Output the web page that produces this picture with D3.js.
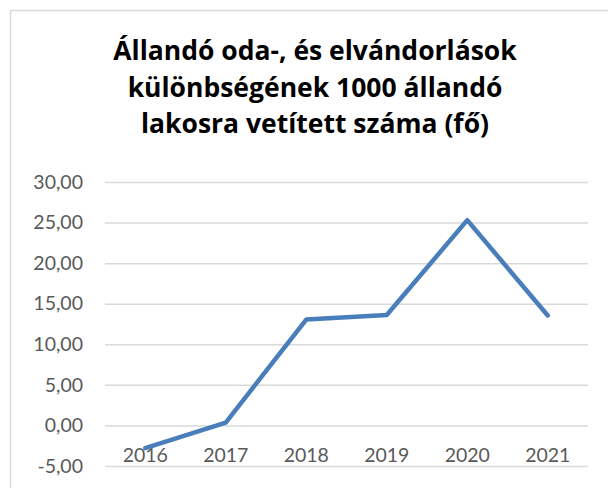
<!DOCTYPE html>
<html><head><meta charset="utf-8">
<script src="https://cdn.jsdelivr.net/npm/d3@7"></script>
<style>html,body{margin:0;padding:0;background:#fff;}</style>
</head><body>
<script>
const years = ["2016","2017","2018","2019","2020","2021"];
const values = [-2.8, 0.35, 13.05, 13.6, 25.3, 13.55];
const yTicks = [-5,0,5,10,15,20,25,30];
const titleLines = ["Állandó oda-, és elvándorlások","különbségének 1000 állandó","lakosra vetített száma (fő)"];

const W=608,H=488;
const svg=d3.select("body").append("svg").attr("width",W).attr("height",H);
svg.append("rect").attr("x",10.5).attr("y",10.5).attr("width",W).attr("height",H)
  .attr("fill","#fff").attr("stroke","#d9d9d9").attr("stroke-width",1.5);

const font="Lato, 'Open Sans', sans-serif";
const tt=svg.append("text").attr("text-anchor","middle").attr("font-family","'Open Sans', sans-serif")
  .attr("font-weight","bold").attr("font-size",26.5).attr("fill","#000");
titleLines.forEach((l,i)=>tt.append("tspan").attr("x",315).attr("y",60+i*36.5).text(l));

const x=d3.scaleBand().domain(years).range([105,588]);
const y=d3.scaleLinear().domain([-5,30]).range([466,182]);

svg.append("g").selectAll("line").data(yTicks).join("line")
  .attr("x1",105).attr("x2",588).attr("y1",d=>y(d)+0.5).attr("y2",d=>y(d)+0.5)
  .attr("stroke","#d9d9d9").attr("stroke-width",1.5);

const fmt=d=>d3.format(".2f")(d).replace(".",",").replace("−","-");
const yAxis=d3.axisLeft(y).tickValues(yTicks).tickFormat(fmt).tickSize(0).tickPadding(0);
const gy=svg.append("g").attr("transform","translate(83,0)").call(yAxis);
gy.select(".domain").remove();
gy.selectAll("text").attr("font-family",font).attr("font-size",19.5).attr("fill","#595959");

const xAxis=d3.axisBottom(x).tickSize(0).tickPadding(0);
const gx=svg.append("g").attr("transform","translate(0,448)").call(xAxis);
gx.select(".domain").remove();
gx.selectAll("text").attr("font-family",font).attr("font-size",19.5).attr("fill","#595959");

const line=d3.line().x((d,i)=>x(years[i])+x.bandwidth()/2).y(d=>y(d));
svg.append("path").datum(values).attr("d",line).attr("fill","none")
  .attr("stroke","#4a7ebb").attr("stroke-width",4.5).attr("stroke-linejoin","round").attr("stroke-linecap","round");
</script>
</body></html>
